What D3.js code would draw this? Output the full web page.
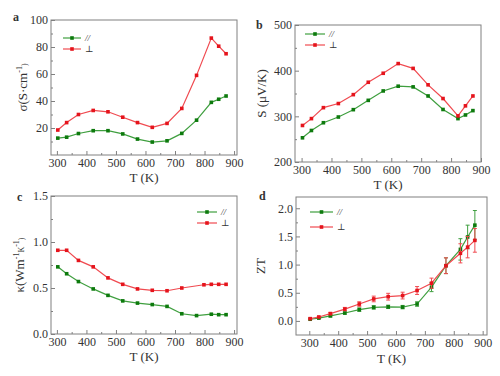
<!DOCTYPE html>
<html><head><meta charset="utf-8">
<script src="https://cdn.jsdelivr.net/npm/d3@7"></script>
<style>
body{margin:0;background:#fff;}
svg text{font-family:"Liberation Serif","DejaVu Serif",serif;fill:#333;}
</style></head>
<body><svg id="c" width="500" height="376"></svg>
<script>
// ---- data ----
const T = [303, 333, 373, 423, 473, 523, 573, 623, 673, 723, 773, 823, 848, 873];
const T_c_perp = [303, 333, 373, 423, 473, 523, 573, 623, 673, 723, 798, 823, 848, 873];
const sigmaPar  = [12.5, 13.2, 15.9, 18, 18, 15.6, 11.8, 9.6, 10.5, 16, 25.8, 39, 41.3, 43.7];
const sigmaPerp = [18.5, 24, 30, 33, 32, 28, 24, 20.5, 23.4, 34.5, 59, 86.6, 80.6, 75];
const seebPar   = [253, 269, 286, 298.5, 314.6, 335, 355.6, 366, 364.5, 344.6, 315, 295, 303, 312.5];
const seebPerp  = [280, 295, 319, 328, 347.5, 374.6, 394.3, 415.5, 405, 369, 339, 301, 323, 344.6];
const kappaPar  = [0.73, 0.655, 0.57, 0.49, 0.42, 0.36, 0.336, 0.32, 0.30, 0.22, 0.20, 0.215, 0.21, 0.21];
const kappaPerp = [0.91, 0.91, 0.80, 0.73, 0.61, 0.54, 0.49, 0.475, 0.47, 0.50, 0.535, 0.54, 0.54, 0.54];
const ztPar     = [0.03, 0.05, 0.09, 0.14, 0.20, 0.24, 0.25, 0.245, 0.30, 0.60, 0.98, 1.27, 1.49, 1.70];
const ztPerp    = [0.04, 0.07, 0.13, 0.21, 0.30, 0.39, 0.43, 0.45, 0.54, 0.67, 0.98, 1.20, 1.31, 1.43];
const ztParErr  = [0.01, 0.01, 0.02, 0.02, 0.03, 0.03, 0.03, 0.03, 0.04, 0.08, 0.14, 0.19, 0.21, 0.26];
const ztPerpErr = [0.01, 0.01, 0.02, 0.03, 0.04, 0.05, 0.06, 0.06, 0.07, 0.09, 0.14, 0.17, 0.19, 0.21];
const xTicks = [300, 400, 500, 600, 700, 800, 900];
const legendLabels = ["//", "\u22A5"];

const GREEN_L = "#3f9f3f", GREEN_M = "#0d7a0d";
const RED_L = "#f04a50", RED_M = "#e5141c";
const AX = "#808080";

const svg = d3.select("#c");

function panel(o){
  const g = svg.append("g");
  const x = d3.scaleLinear().domain(o.xd).range([o.l, o.r]);
  const y = d3.scaleLinear().domain(o.yd).range([o.b, o.t]);
  g.append("rect").attr("x", o.l).attr("y", o.t).attr("width", o.r-o.l).attr("height", o.b-o.t)
    .attr("fill","none").attr("stroke",AX).attr("stroke-width",1);
  const xa = g.append("g").attr("transform",`translate(0,${o.b})`)
    .call(d3.axisBottom(x).tickValues(xTicks).tickSize(-4).tickPadding(3).tickFormat(d3.format("d")));
  const xm = g.append("g").attr("transform",`translate(0,${o.b})`)
    .call(d3.axisBottom(x).tickValues(d3.range(350, 900, 100)).tickSize(-2).tickFormat(""));
  const ya = g.append("g").attr("transform",`translate(${o.l},0)`)
    .call(d3.axisLeft(y).tickValues(o.yt).tickSize(-4).tickPadding(3).tickFormat(o.yf));
  const ym = g.append("g").attr("transform",`translate(${o.l},0)`)
    .call(d3.axisLeft(y).tickValues(o.ym).tickSize(-2).tickFormat(""));
  [xa,xm,ya,ym].forEach(a=>{
    a.select(".domain").remove();
    a.selectAll("line").attr("stroke",AX);
    a.selectAll("text").attr("font-size",12).attr("fill","#333")
      .style("font-family",'"Liberation Serif",serif');
  });
  o.series.forEach(s=>{
    const pts = s.x.map((xv,i)=>[xv, s.y[i], s.e ? s.e[i] : 0]);
    if (s.e){
      g.append("g").selectAll("g").data(pts).join("g").each(function(d){
        const gg = d3.select(this);
        const cx = x(d[0]);
        gg.append("line").attr("x1",cx).attr("x2",cx).attr("y1",y(d[1]-d[2])).attr("y2",y(d[1]+d[2]))
          .attr("stroke",s.lc).attr("stroke-width",1);
        [d[1]-d[2], d[1]+d[2]].forEach(v=>gg.append("line").attr("x1",cx-2).attr("x2",cx+2)
          .attr("y1",y(v)).attr("y2",y(v)).attr("stroke",s.lc).attr("stroke-width",1));
      });
    }
    g.append("path").datum(pts)
      .attr("d", d3.line().x(d=>x(d[0])).y(d=>y(d[1])))
      .attr("fill","none").attr("stroke",s.lc).attr("stroke-width",1.2);
    g.append("g").selectAll("rect").data(pts).join("rect")
      .attr("x",d=>x(d[0])-1.8).attr("y",d=>y(d[1])-1.8).attr("width",3.6).attr("height",3.6)
      .attr("fill",s.mc);
  });
  o.series.forEach((s,i)=>{
    const ly = o.leg[1] + i*o.leg[3];
    g.append("line").attr("x1",o.leg[0]).attr("x2",o.leg[0]+o.leg[2]).attr("y1",ly).attr("y2",ly)
      .attr("stroke",s.lc).attr("stroke-width",1.2);
    g.append("rect").attr("x",o.leg[0]+o.leg[2]/2-1.8).attr("y",ly-1.8).attr("width",3.6).attr("height",3.6).attr("fill",s.mc);
    g.append("text").attr("x",o.leg[0]+o.leg[2]+4).attr("y",ly+3).attr("font-size",9)
      .attr("font-style", i===0 ? "italic" : "normal").attr("fill","#777").text(legendLabels[i]);
  });
  g.append("text").attr("x",(o.l+o.r)/2).attr("y",o.xty).attr("text-anchor","middle")
    .attr("font-size",13).text("T (K)");
  const yt = g.append("text").attr("transform",`translate(${o.ytx},${(o.t+o.b)/2}) rotate(-90)`)
    .attr("text-anchor","middle").attr("font-size",13);
  o.ytitle(yt);
  g.append("text").attr("x",o.lab[0]).attr("y",o.lab[1]).attr("font-size",12).attr("font-weight","bold")
    .attr("fill","#111").text(o.label);
}

function sup(t, parts){
  parts.forEach(p=>{
    const ts = t.append("tspan").text(p[0]);
    if (p[1]) ts.attr("font-size",8).attr("dy",p[1]);
  });
}

panel({l:51,r:237,t:20,b:155,xd:[280,910],yd:[0,100],yt:[20,40,60,80,100],ym:[10,30,50,70,90],yf:d3.format("d"),
  series:[{x:T,y:sigmaPar,lc:GREEN_L,mc:GREEN_M},{x:T,y:sigmaPerp,lc:RED_L,mc:RED_M}],
  leg:[63,38,18,11],xty:182,ytx:27,lab:[13,21],label:"a",
  ytitle:t=>sup(t,[["σ(S·cm"],["-1",-5],[")",5]])});

panel({l:295,r:481,t:25,b:162,xd:[278,900],yd:[200,500],yt:[200,300,400,500],ym:[250,350,450],yf:d3.format("d"),
  series:[{x:T,y:seebPar,lc:GREEN_L,mc:GREEN_M},{x:T,y:seebPerp,lc:RED_L,mc:RED_M}],
  leg:[305,34,20,11],xty:189,ytx:266,lab:[256,29],label:"b",
  ytitle:t=>t.text("S (μV/K)")});

panel({l:51,r:237,t:196,b:334,xd:[280,910],yd:[0,1.5],yt:[0,0.5,1.0,1.5],ym:[0.25,0.75,1.25],yf:d3.format(".1f"),
  series:[{x:T,y:kappaPar,lc:GREEN_L,mc:GREEN_M},{x:T_c_perp,y:kappaPerp,lc:RED_L,mc:RED_M}],
  leg:[197,212,20,11],xty:361,ytx:24,lab:[17,201],label:"c",
  ytitle:t=>sup(t,[["κ(Wm"],["-1",-5],["K",5],["-1",-5],[")",5]])});

panel({l:296,r:487,t:197,b:335,xd:[254,915],yd:[-0.25,2.2],yt:[0,0.5,1.0,1.5,2.0],ym:[0.25,0.75,1.25,1.75],yf:d3.format(".1f"),
  series:[{x:T,y:ztPar,e:ztParErr,lc:GREEN_L,mc:GREEN_M},{x:T,y:ztPerp,e:ztPerpErr,lc:RED_L,mc:RED_M}],
  leg:[310,212,23,15],xty:363,ytx:265,lab:[259,200],label:"d",
  ytitle:t=>t.text("ZT")});
</script></body></html>
